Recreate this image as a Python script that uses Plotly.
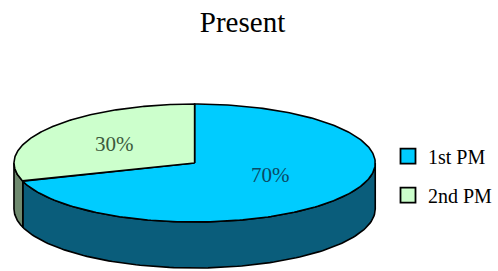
import numpy as np
import plotly.graph_objects as go

# ---- data ----
categories = ["1st PM", "2nd PM"]
values = [70, 30]
labels_text = ["70%", "30%"]
title_text = "Present"

# ---- styling ----
top_colors = ["#00CCFF", "#CCFFCC"]
side_colors = ["#0A5D7B", "#6F8A6F"]
label_colors = ["#0B4A66", "#3C5A3C"]
FONT = "Liberation Serif, Times New Roman, serif"

W, H = 498, 271
cx, cy, rx, ry, depth = 195, 163, 181, 59, 46

def pt(theta_deg, dy=0.0, f=1.0):
    t = np.radians(theta_deg)
    return cx + f * rx * np.cos(t), cy - f * ry * np.sin(t) + dy

fig = go.Figure()

total = float(sum(values))
start = 90.0
spans = []
for v in values:
    sweep = 360.0 * v / total
    spans.append((start, start - sweep))  # clockwise
    start -= sweep

# sides (front half only: angles in [-180, 0])
for i, (a, b) in enumerate(spans):
    for shift in (0, 360, -360):
        h, l = a + shift, b + shift
        s_hi, s_lo = min(h, 0.0), max(l, -180.0)
        if s_hi > s_lo:
            th = np.linspace(s_hi, s_lo, 120)
            xt, yt = pt(th)
            xb, yb = pt(th[::-1], dy=depth)
            xs = np.concatenate([xt, xb, xt[:1]])
            ys = np.concatenate([yt, yb, yt[:1]])
            fig.add_trace(go.Scatter(x=xs, y=ys, mode="lines", fill="toself",
                                     fillcolor=side_colors[i],
                                     line=dict(color="black", width=1.6),
                                     showlegend=False, hoverinfo="skip"))

# tops
for i, (a, b) in enumerate(spans):
    th = np.linspace(a, b, 240)
    xa, ya = pt(th)
    xs = np.concatenate([[cx], xa, [cx]])
    ys = np.concatenate([[cy], ya, [cy]])
    fig.add_trace(go.Scatter(x=xs, y=ys, mode="lines", fill="toself",
                             fillcolor=top_colors[i],
                             line=dict(color="black", width=1.6),
                             showlegend=False, hoverinfo="skip"))

# labels
label_frac = [0.52, 0.55]
label_dy = [-6, 0]
for i, (a, b) in enumerate(spans):
    mid = (a + b) / 2
    x, y = pt(mid, f=label_frac[i])
    fig.add_annotation(x=x, y=y + label_dy[i], text=labels_text[i], showarrow=False,
                       font=dict(family=FONT, size=21, color=label_colors[i]))

# legend entries
for i, c in enumerate(categories):
    fig.add_trace(go.Scatter(x=[None], y=[None], mode="markers", name=c,
                             legendgroup=c,
                             marker=dict(symbol="square", size=15, color=top_colors[i],
                                         line=dict(color="black", width=1.8))))

fig.update_layout(
    width=W, height=H,
    margin=dict(l=0, r=0, t=0, b=0),
    paper_bgcolor="white", plot_bgcolor="white",
    title=dict(text=title_text, x=0.487, xanchor="center", y=0.918, yanchor="middle",
               font=dict(family=FONT, size=29, color="black")),
    xaxis=dict(range=[0, W], visible=False, fixedrange=True),
    yaxis=dict(range=[H, 0], visible=False, fixedrange=True),
    legend=dict(x=0.781, y=0.352, xanchor="left", yanchor="middle",
                font=dict(family=FONT, size=20, color="black"),
                itemsizing="trace", tracegroupgap=10, bgcolor="rgba(0,0,0,0)"),
    showlegend=True,
)

fig.write_html("out.html", config={"displayModeBar": False},
               post_script="document.body.style.margin='0';")
